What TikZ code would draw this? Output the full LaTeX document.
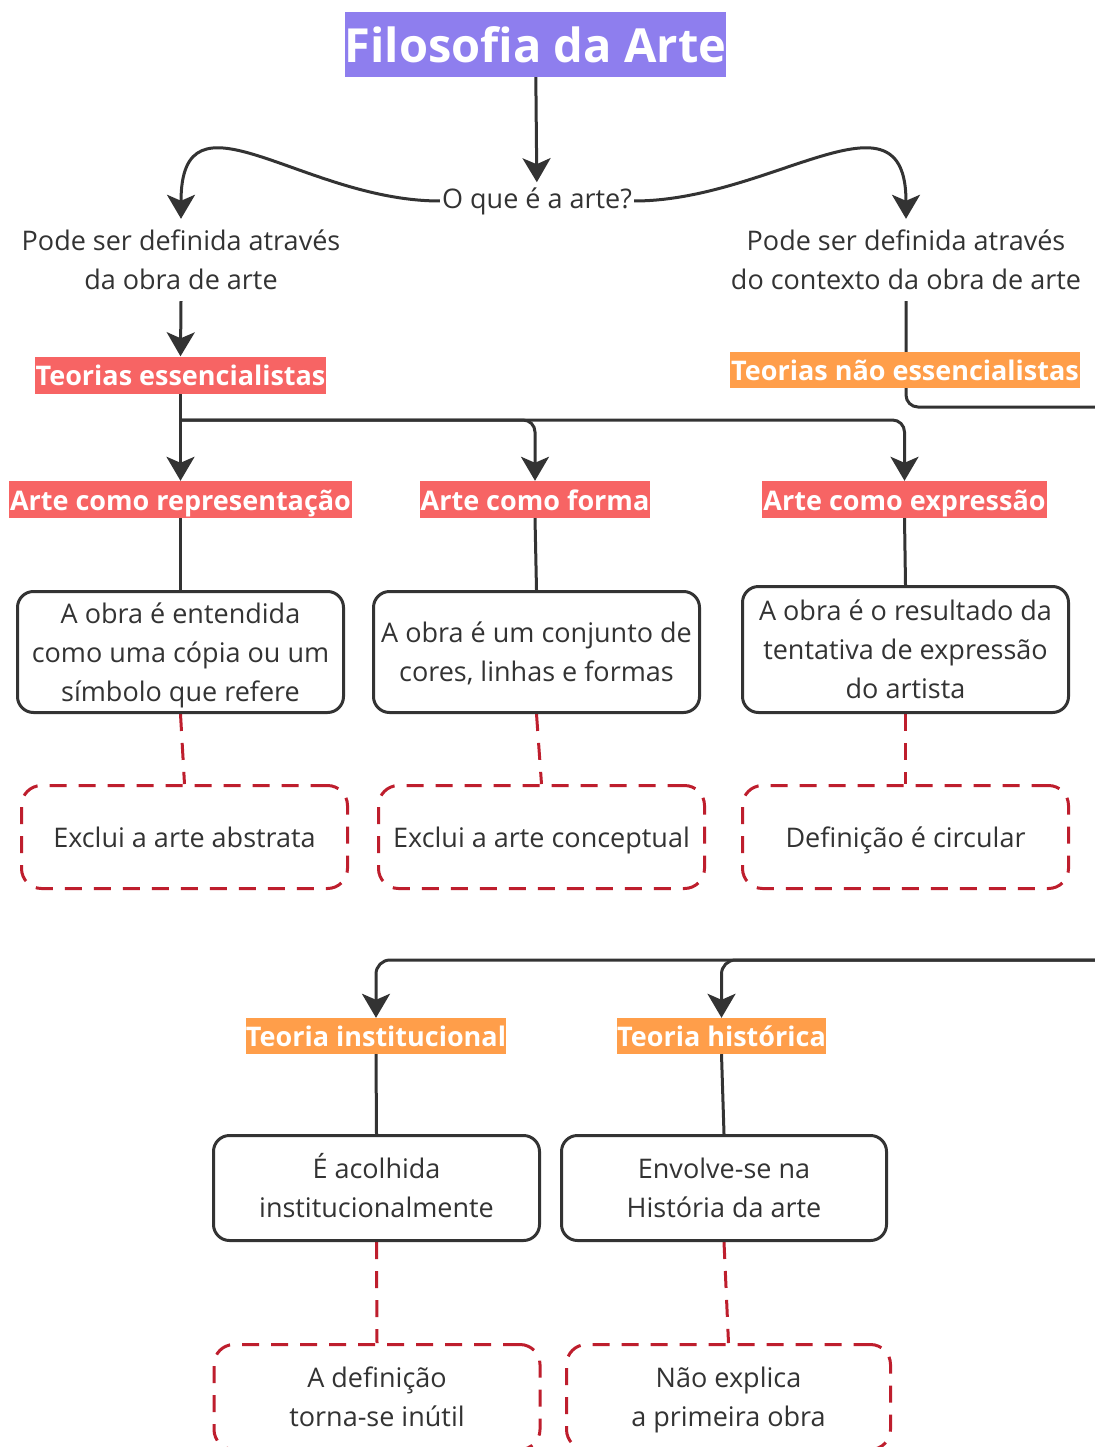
\documentclass[tikz,border=0pt]{standalone}
\usepackage{fontspec}
\setmainfont{Open Sans}
\usetikzlibrary{arrows.meta,backgrounds}
\definecolor{ink}{HTML}{333333}
\definecolor{titlepurple}{HTML}{8E7EEE}
\definecolor{tagred}{HTML}{F76464}
\definecolor{tagorange}{HTML}{FF9E4A}
\definecolor{dashred}{HTML}{BE1E2D}
\newcommand{\ls}{\rule[-9.4pt]{0pt}{39pt}}
\newcommand{\tstrut}{\rule[-6.4pt]{0pt}{34pt}}
\begin{document}
\begin{tikzpicture}[x=1pt,y=-1pt,
  every node/.style={text=ink, font=\fontsize{27pt}{39pt}\selectfont},
  plain/.style={align=center, inner xsep=2pt, inner ysep=2pt},
  tag/.style={font=\fontsize{27pt}{30pt}\selectfont\bfseries, text=white, inner sep=0pt, minimum height=37pt,
    execute at begin node={\tstrut}, execute at end node={\tstrut}},
  redtag/.style={tag, fill=tagred},
  orangetag/.style={tag, fill=tagorange},
  card/.style={draw=ink, line width=3pt, rounded corners=16pt, align=center, inner sep=0pt, minimum width=326pt, minimum height=121pt},
  note/.style={draw=dashred, line width=3pt, dash pattern=on 17pt off 12pt, rounded corners=20pt, align=center, inner sep=0pt, minimum width=326pt, minimum height=103pt},
  link/.style={draw=ink, line width=3pt},
  arr/.style={link, -{Stealth[length=24pt,width=28pt,inset=6pt]}},
  dlink/.style={draw=dashred, line width=3pt, dash pattern=on 17pt off 12pt},
]
\useasboundingbox (0,0) rectangle (1094,1447);

% title and question
\node[fill=titlepurple, text=white, font=\fontsize{47pt}{50pt}\selectfont\bfseries, inner sep=0pt, minimum width=377pt, minimum height=65pt] (title) at (535.5,44.5) {Filosofia da Arte};
\node[inner xsep=2pt, inner ysep=5pt] (q) at (537,201) {O que é a arte?};

\node[plain] (p1) at (181,260) {\ls Pode ser definida através\\da obra de arte\ls};
\node[plain] (p2) at (906,260) {\ls Pode ser definida através\\do contexto da obra de arte\ls};

\node[redtag, minimum width=291pt] (te) at (180.5,375) {Teorias essencialistas};
\node[orangetag, minimum width=350pt, minimum height=36pt] (tne) at (905,370) {Teorias não essencialistas};

\node[redtag, minimum width=343pt] (r1) at (180.5,499.5) {Arte como representação};
\node[redtag, minimum width=230pt] (r2) at (535,499.5) {Arte como forma};
\node[redtag, minimum width=285pt] (r3) at (904.5,499.5) {Arte como expressão};

\node[card] (b1) at (180.5,652) {\ls A obra é entendida\\como uma cópia ou um\\símbolo que refere\ls};
\node[card] (b2) at (536.5,652) {\ls A obra é um conjunto de\\cores, linhas e formas\ls};
\node[card, minimum height=126pt] (b3) at (905.5,649.5) {\ls A obra é o resultado da\\tentativa de expressão\\do artista\ls};

\node[note] (d1) at (184.5,837) {\ls Exclui a arte abstrata\ls};
\node[note] (d2) at (541.5,837) {\ls Exclui a arte conceptual\ls};
\node[note] (d3) at (905.5,837) {\ls Definição é circular\ls};

\node[orangetag, minimum width=260pt, minimum height=36pt] (ti) at (376,1036) {Teoria institucional};
\node[orangetag, minimum width=209pt, minimum height=36pt] (th) at (721.5,1036) {Teoria histórica};

\node[card, minimum height=105pt] (c1) at (376.5,1188) {\ls É acolhida\\institucionalmente\ls};
\node[card, minimum height=105pt, minimum width=325pt] (c2) at (724,1188) {\ls Envolve-se na\\História da arte\ls};

\node[note, minimum height=105pt] (e1) at (377,1397) {\ls A definição\\torna-se inútil\ls};
\node[note, minimum height=105pt, minimum width=324pt] (e2) at (728.5,1397) {\ls Não explica\\a primeira obra\ls};

\coordinate (bj) at (181,420);
\coordinate (exitA) at (1100,407);
\coordinate (exitB) at (1100,960);

\begin{scope}[on background layer]
  \fill[white] (0,0) rectangle (1094,1447);
  \draw[arr] (title) -- (q);
  \draw[arr] (q.west) .. controls +(-138,0) and +(0,-138) .. (p1.north);
  \draw[arr] (q.east) .. controls +(138,0) and +(0,-138) .. (p2.north);
  \draw[arr] (p1.south) -- (te.north);
  \draw[link, rounded corners=12pt] (p2.south) |- (exitA);
  \draw[arr] (te.south) -- (r1.north);
  \draw[arr, rounded corners=12pt] (bj) -| (r2.north);
  \draw[arr, rounded corners=12pt] (bj) -| (r3.north);
  \draw[link] (r1.south) -- (b1.north);
  \draw[link] (r2.south) -- (b2.north);
  \draw[link] (r3.south) -- (b3.north);
  \draw[dlink] (b1.south) -- (d1.north);
  \draw[dlink] (b2.south) -- (d2.north);
  \draw[dlink] (b3.south) -- (d3.north);
  \draw[arr, rounded corners=14pt] (exitB) -| (ti.north);
  \draw[arr, rounded corners=14pt] (exitB) -| (th.north);
  \draw[link] (ti.south) -- (c1.north);
  \draw[link] (th.south) -- (c2.north);
  \draw[dlink] (c1.south) -- (e1.north);
  \draw[dlink] (c2.south) -- (e2.north);
\end{scope}
\end{tikzpicture}
\end{document}
